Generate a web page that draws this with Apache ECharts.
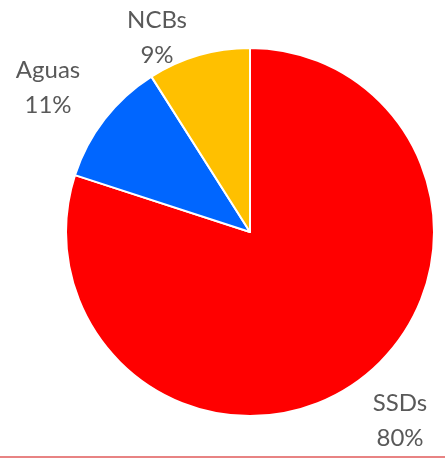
<!DOCTYPE html>
<html>
<head>
<meta charset="utf-8">
<script src="https://cdn.jsdelivr.net/npm/echarts@6/dist/echarts.min.js"></script>
<style>
  html, body { margin: 0; padding: 0; background: #fff; }
  #chart { width: 445px; height: 459px; }
</style>
</head>
<body>
<div id="chart"></div>
<script>
var categories = ['SSDs', 'Aguas', 'NCBs'];
var values = [80, 11, 9];
var colors = ['#FF0000', '#0066FF', '#FFC000'];

// label centres, as in the picture
var labelPos = [[400, 421], [48, 88], [157, 38]];

var chart = echarts.init(document.getElementById('chart'));

chart.setOption({
  animation: false,
  backgroundColor: '#fff',
  graphic: [
    {
      type: 'text',
      x: 241, y: -13,
      style: {
        text: '(%)',
        font: 'bold 24px "Liberation Sans"',
        fill: '#FF0000',
        align: 'center',
        verticalAlign: 'middle'
      }
    },
    {
      type: 'line',
      shape: { x1: 0, y1: 457, x2: 445, y2: 457 },
      style: { stroke: '#E05A5A', lineWidth: 1.5 }
    }
  ],
  series: [{
    type: 'pie',
    center: [250, 232],
    radius: 184,
    startAngle: 90,
    clockwise: true,
    data: categories.map(function (c, i) {
      return { name: c, value: values[i], itemStyle: { color: colors[i] } };
    }),
    itemStyle: { borderColor: '#fff', borderWidth: 2 },
    label: {
      show: true,
      position: 'outside',
      alignTo: 'none',
      overflow: 'none',
      formatter: '{b}\n{c}%',
      color: '#595959',
      fontFamily: 'Lato',
      fontSize: 24,
      lineHeight: 35,
      align: 'center'
    },
    labelLine: { show: false },
    labelLayout: function (p) {
      return {
        x: labelPos[p.dataIndex][0],
        y: labelPos[p.dataIndex][1],
        align: 'center',
        verticalAlign: 'middle'
      };
    },
    emphasis: { disabled: true }
  }]
});
</script>
</body>
</html>
